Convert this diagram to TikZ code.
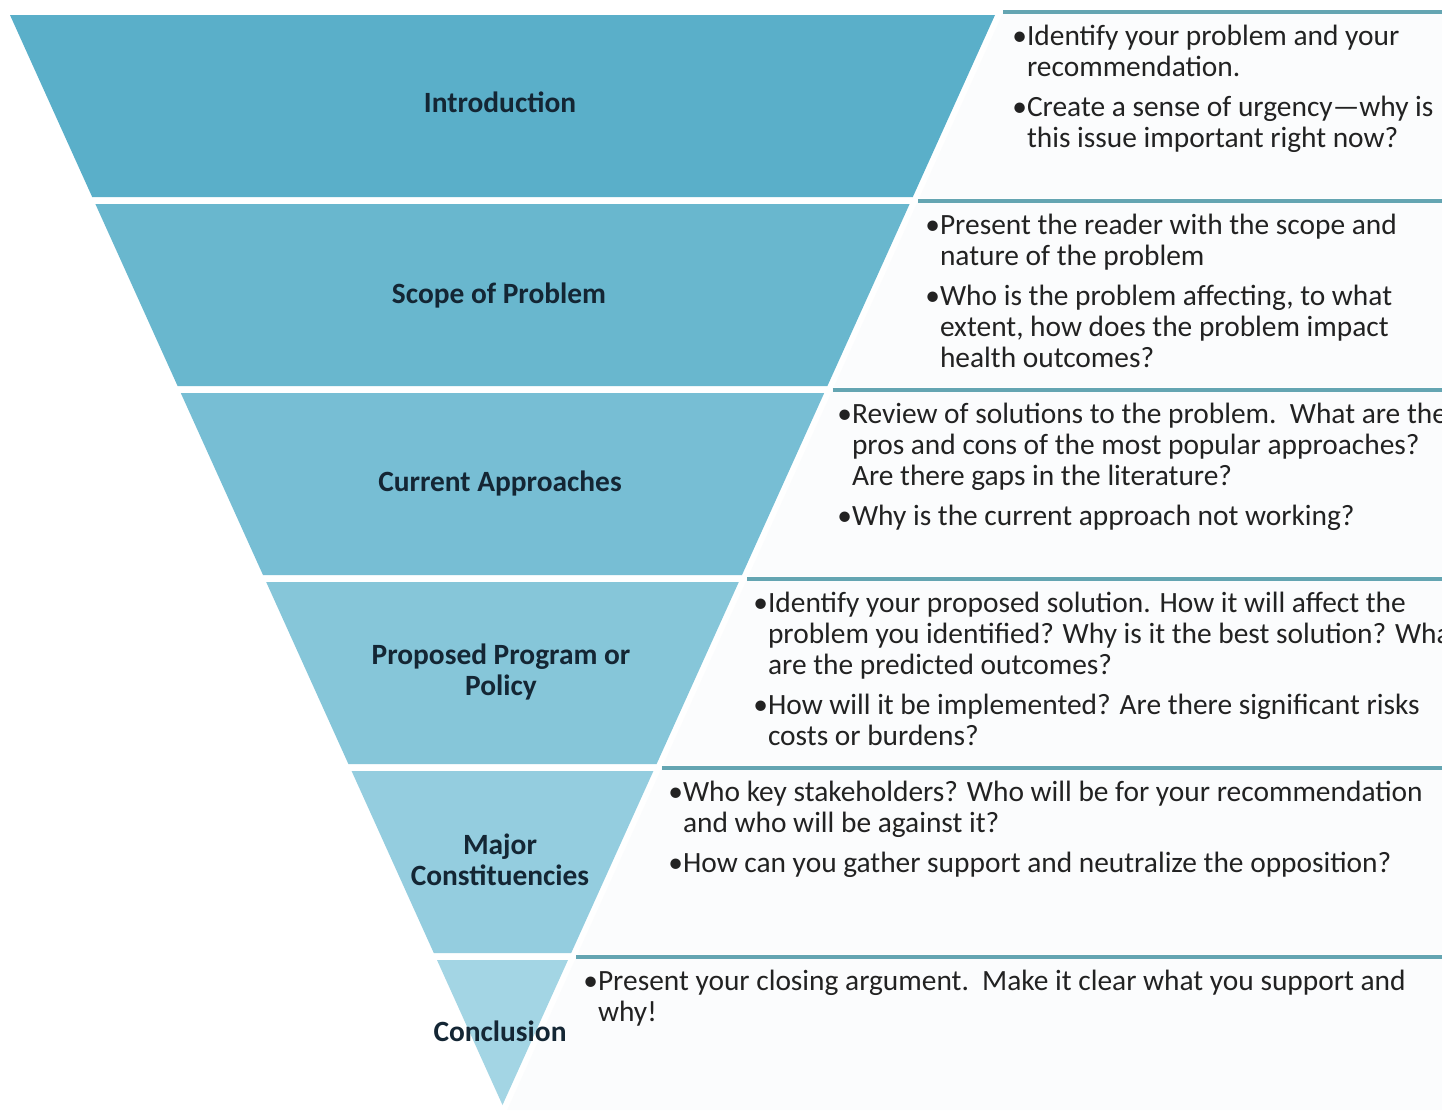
\documentclass[tikz,border=0pt]{standalone}
\usepackage{fontspec}
\setmainfont{Carlito}
\usepackage{tikz}
\definecolor{fnband1}{RGB}{90,175,201}
\definecolor{fnband2}{RGB}{105,183,206}
\definecolor{fnband3}{RGB}{119,190,212}
\definecolor{fnband4}{RGB}{134,198,217}
\definecolor{fnband5}{RGB}{148,205,223}
\definecolor{fnband6}{RGB}{163,213,228}
\definecolor{fnline}{RGB}{100,165,178}
\definecolor{fnbox}{RGB}{251,252,253}
\definecolor{fnlbl}{RGB}{20,38,52}
\definecolor{fnink}{RGB}{34,34,34}
% bullet with its lines hanging under the text
\newcommand{\bitem}[1]{\textbullet\begin{tabular}[t]{@{}l@{}}#1\end{tabular}}
\newcommand{\lines}[1]{\begin{tabular}[t]{@{}c@{}}#1\end{tabular}}
\tikzset{
  band/.style={fill=#1, draw=none},
  notebox/.style={fill=fnbox, draw=none},
  topline/.style={draw=fnline, line width=2.2pt},
  lbl/.style={
    font=\fontsize{14.7}{15.5}\selectfont\bfseries, text=fnlbl,
    inner sep=0pt, anchor=base
  },
  notes/.style={
    font=\fontsize{14.7}{15.5}\selectfont, text=fnink,
    align=left, inner sep=0pt, anchor=north west
  }
}

\begin{document}
\begin{tikzpicture}[x=0.5pt, y=-0.5pt]
  \fill[white] (0,0) rectangle (1442,1110);
  \useasboundingbox (0,0) rectangle (1442,1110);
  \clip (0,0) rectangle (1442,1110);

  % note panels, slanted along the funnel
  \fill[notebox] (1004.3,10) -- (1442,10) -- (1442,198) -- (919.3,198) -- cycle;
  \fill[notebox] (918.9,199) -- (1442,199) -- (1442,387) -- (833.9,387) -- cycle;
  \fill[notebox] (833.5,388) -- (1442,388) -- (1442,576) -- (748.5,576) -- cycle;
  \fill[notebox] (748.1,577) -- (1442,577) -- (1442,765) -- (663.1,765) -- cycle;
  \fill[notebox] (662.7,766) -- (1442,766) -- (1442,954) -- (577.7,954) -- cycle;
  \fill[notebox] (577.3,955) -- (1442,955) -- (1442,1110) -- (507.2,1110) -- cycle;
  \draw[topline] (1003.4,12) -- (1442,12);
  \draw[topline] (918.0,201) -- (1442,201);
  \draw[topline] (832.6,390) -- (1442,390);
  \draw[topline] (747.2,579) -- (1442,579);
  \draw[topline] (661.8,768) -- (1442,768);
  \draw[topline] (576.4,957) -- (1442,957);

  % funnel bands
  \fill[band=fnband1] (10,15) -- (995,15) -- (912.8,197) -- (92.2,197) -- cycle;
  \fill[band=fnband2] (95.4,204) -- (909.6,204) -- (827.4,386) -- (177.6,386) -- cycle;
  \fill[band=fnband3] (180.8,393) -- (824.2,393) -- (742.0,575) -- (263.0,575) -- cycle;
  \fill[band=fnband4] (266.2,582) -- (738.8,582) -- (656.6,764) -- (348.4,764) -- cycle;
  \fill[band=fnband5] (351.6,771) -- (653.4,771) -- (571.2,953) -- (433.8,953) -- cycle;
  \fill[band=fnband6] (437.0,960) -- (568.0,960) -- (502.5,1105) -- cycle;

  % band titles
  \node[lbl] (intro) at (500,112) {Introduction};
  \node[lbl] (scope) at (499,303) {Scope of Problem};
  \node[lbl] (current) at (500,491) {Current Approaches};
  \node[lbl] (proposed) at (501,664) {\lines{Proposed Program or\\Policy}};
  \node[lbl] (major) at (500,854) {\lines{Major\\Constituencies}};
  \node[lbl] (concl) at (500,1041) {Conclusion};

  % notes
  \node[notes] (introtxt) at (1012,23.3)
    {\bitem{Identify your problem and your\\recommendation.}\\[3.5pt]
     \bitem{Create a sense of urgency---why is\\this issue important right now?}};
  \node[notes] (scopetxt) at (925,212.3)
    {\bitem{Present the reader with the scope and\\nature of the problem}\\[3.5pt]
     \bitem{Who is the problem affecting, to what\\extent, how does the problem impact\\health outcomes?}};
  \node[notes] (currenttxt) at (837,401.3)
    {\bitem{Review of solutions to the problem.\ \ What are the\\pros and cons of the most popular approaches?\\Are there gaps in the literature?}\\[3.5pt]
     \bitem{Why is the current approach not working?}};
  \node[notes] (proposedtxt) at (753,590.3)
    {\bitem{Identify your proposed solution. How it will affect the\\problem you identified? Why is it the best solution? What\\are the predicted outcomes?}\\[3.5pt]
     \bitem{How will it be implemented? Are there significant risks\\costs or burdens?}};
  \node[notes] (majortxt) at (668,779.3)
    {\bitem{Who key stakeholders? Who will be for your recommendation\\and who will be against it?}\\[3.5pt]
     \bitem{How can you gather support and neutralize the opposition?}};
  \node[notes] (concltxt) at (583,968.3)
    {\bitem{Present your closing argument.\ \ Make it clear what you support and\\why!}};
\end{tikzpicture}
\end{document}
